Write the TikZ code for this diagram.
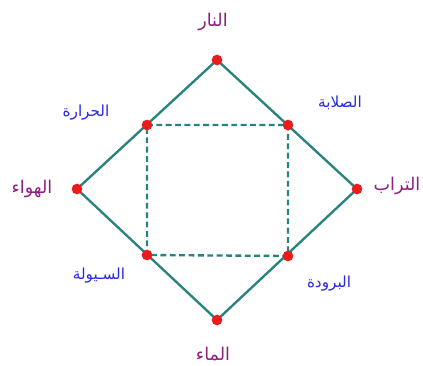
\documentclass[tikz,border=0pt]{standalone}
\usepackage{fontspec}
\usepackage{tikz}
\TeXXeTstate=1
\newfontfamily\arabicfont[Script=Arabic]{DejaVu Sans}
\definecolor{edgeteal}{RGB}{40,130,125}
\definecolor{dotred}{RGB}{232,28,28}
\definecolor{elempurple}{RGB}{140,30,130}
\definecolor{qualblue}{RGB}{40,40,235}

\begin{document}
\begin{tikzpicture}[x=0.03cm, y=-0.03cm,
    corner/.style={circle, fill=dotred, inner sep=0pt, minimum size=0.32cm},
    side/.style={line width=2pt, draw=edgeteal},
    inner/.style={side, dash pattern=on 5pt off 3pt},
    element/.style={font=\arabicfont\fontsize{15}{17}\selectfont, text=elempurple},
    quality/.style={font=\arabicfont\fontsize{13}{15}\selectfont, text=qualblue}
]
\useasboundingbox (0,0) rectangle (423,365);

% Points
\coordinate (fire) at (217,60);
\coordinate (air) at (77,189);
\coordinate (earth) at (357,189);
\coordinate (water) at (217,320);
\coordinate (heat) at (147,125);
\coordinate (dry) at (288,125);
\coordinate (wet) at (147,255);
\coordinate (cold) at (288,256);

% Diamond and inner square
\draw[side] (fire) -- (earth) -- (water) -- (air) -- cycle;
\draw[inner] (heat) -- (dry) -- (cold) -- (wet) -- cycle;

% Dots
\foreach \p in {fire,air,earth,water,heat,dry,wet,cold}
  \node[corner] at (\p) {};

% Labels
\node[element] (fireL) at (213,22) {\beginR النار\endR};
\node[element] (airL) at (32,189) {\beginR الهواء\endR};
\node[element] (earthL) at (397,186) {\beginR التراب\endR};
\node[element] (waterL) at (213,354) {\beginR الماء\endR};
\node[quality] (heatL) at (86,113) {\beginR الحرارة\endR};
\node[quality] (dryL) at (340,103) {\beginR الصلابة\endR};
\node[quality] (wetL) at (99,276) {\beginR السـيولة\endR};
\node[quality] (coldL) at (329,284) {\beginR البرودة\endR};
\end{tikzpicture}
\end{document}
